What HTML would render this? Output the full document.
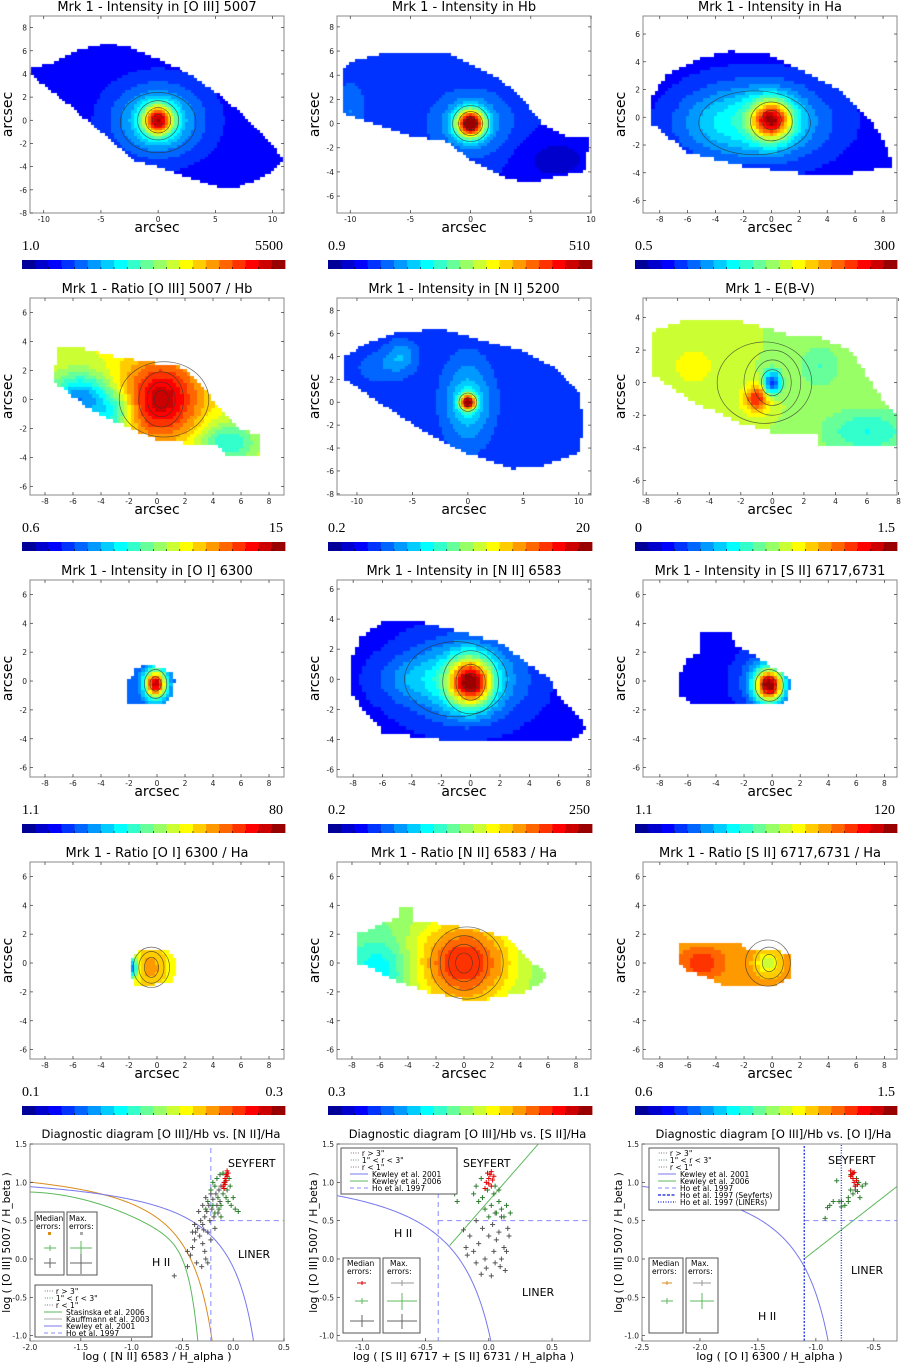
<!DOCTYPE html>
<html><head><meta charset="utf-8">
<style>
html,body{margin:0;padding:0;background:#fff;}
#wrap{position:relative;width:901px;height:1363px;overflow:hidden;}
canvas{position:absolute;}
svg{position:absolute;left:0;top:0;}
text{font-family:"DejaVu Sans","Liberation Sans",sans-serif;}
.serif{font-family:"Liberation Serif",serif;}
</style></head>
<body>
<div id="wrap">
<svg id="fig" width="901" height="1363"></svg>
</div>
<script>
// ---------- map panel data ----------
const titles=["Mrk 1 - Intensity in [O III] 5007","Mrk 1 - Intensity in Hb","Mrk 1 - Intensity in Ha",
"Mrk 1 -  Ratio [O III] 5007 / Hb","Mrk 1 - Intensity in [N I] 5200","Mrk 1 -  E(B-V)",
"Mrk 1 - Intensity in [O I] 6300","Mrk 1 - Intensity in [N II] 6583","Mrk 1 - Intensity in [S II] 6717,6731",
"Mrk 1 - Ratio [O I] 6300 / Ha","Mrk 1 - Ratio [N II] 6583 / Ha","Mrk 1 - Ratio [S II] 6717,6731 / Ha"];
const xRanges=[[-11.2,11],[-11.1,10],[-9.2,9],[-9.07,9.07],[-11.8,11.1],[-8.2,7.9],[-9.07,9.07],[-9.1,8.2],[-9.2,8.9],[-9.07,9.07],[-9.07,9.07],[-9.2,8.9]];
const yRanges=[[-8,9],[-7.4,8.9],[-6.9,7.3],[-6.6,7.0],[-8.1,9.1],[-6.9,5.2],[-6.65,7],[-6.5,6.6],[-6.65,7],[-6.65,7],[-6.65,7],[-6.65,7]];
const xTicks=[[-10,-5,0,5,10],[-10,-5,0,5,10],[-8,-6,-4,-2,0,2,4,6,8],[-8,-6,-4,-2,0,2,4,6,8],[-10,-5,0,5,10],[-8,-6,-4,-2,0,2,4,6,8],
[-8,-6,-4,-2,0,2,4,6,8],[-8,-6,-4,-2,0,2,4,6,8],[-8,-6,-4,-2,0,2,4,6,8],[-8,-6,-4,-2,0,2,4,6,8],[-8,-6,-4,-2,0,2,4,6,8],[-8,-6,-4,-2,0,2,4,6,8]];
const yTicks=[[-8,-6,-4,-2,0,2,4,6,8],[-6,-4,-2,0,2,4,6,8],[-6,-4,-2,0,2,4,6],[-6,-4,-2,0,2,4,6],[-8,-6,-4,-2,0,2,4,6,8],[-6,-4,-2,0,2,4],
[-6,-4,-2,0,2,4,6],[-6,-4,-2,0,2,4,6],[-6,-4,-2,0,2,4,6],[-6,-4,-2,0,2,4,6],[-6,-4,-2,0,2,4,6],[-6,-4,-2,0,2,4,6]];
const cbarMin=["1.0","0.9","0.5","0.6","0.2","0","1.1","0.2","1.1","0.1","0.3","0.6"];
const cbarMax=["5500","510","300","15","20","1.5","80","250","120","0.3","1.1","1.5"];
const shapes=[
[[-11,4.5],[-9,5],[-7,6],[-4.5,6.7],[-2.5,6.3],[0,5.3],[2,4.4],[5,2.5],[8,0],[10,-2],[11,-3.5],[10,-4.5],[7,-5.8],[6,-6],[3,-5],[0,-4],[-2,-3.5],[-5,-1],[-8,1.5],[-11,3.8]],
[[-10.5,4.7],[-9.5,5.3],[-6.5,6],[-2,6],[2,4],[4,2.5],[6,0],[8,-1],[10,-1],[9.5,-4],[7,-4.5],[5,-5],[3,-4.5],[0,-3],[-2,-1.5],[-5,-1],[-8,0],[-10.5,0.8]],
[[-8.5,1.5],[-7.5,3],[-5,4.3],[-3,4.8],[0,4.5],[3,3],[5,2],[7,0],[8,-1.5],[8.7,-3.5],[6,-4],[2,-4],[-2,-3.5],[-6,-2.5],[-8.5,-0.5]],
[[-7,3.5],[-5.5,3.6],[-3,3],[-1,2.6],[2,2.2],[4,0],[5,-1],[6,-2],[7.5,-2.5],[7.5,-3.8],[5,-3.8],[4,-3],[2,-3],[0,-2.8],[-3,-1.5],[-5,-0.5],[-7.5,1.3]],
[[-11,4],[-9,5.2],[-6,6.2],[-2,6.3],[1,5.5],[5,4.5],[8,3],[10,1],[10.5,-2],[10,-4.5],[7,-5.5],[4,-5.8],[0,-4.5],[-4,-2.5],[-8,0],[-11,2]],
[[-7.5,3.2],[-5.8,3.8],[-2,3.8],[1,3],[3,2.8],[5,2],[6,0.5],[7,-1],[8,-2],[8,-3.8],[3,-3.8],[3,-3],[0,-3],[-2,-2.5],[-5,-1.2],[-7.5,0.5]],
[[-2,0],[-1.5,0.8],[-0.8,1.2],[0,1],[1,0.6],[1.3,0],[1.1,-1],[0.5,-1.7],[-2,-1.7]],
[[-8,1.5],[-7.5,2.8],[-6,3.8],[-4,4],[-2,3.5],[0,3],[2,2.5],[4,1],[5.5,0],[6,-1],[8,-3.3],[7,-4],[-2,-4],[-6,-3.5],[-8,-1.2]],
[[-6.5,0.5],[-6,1.5],[-5,2],[-5,3.3],[-3,3.3],[-2.5,2.5],[-1.5,2],[0,1],[1,0.5],[1.5,0],[1,-1.5],[-5.5,-1.7],[-6.5,-1]],
[[-1.8,0.3],[-1.2,1],[0.5,1],[1.2,0.5],[1.5,-0.3],[1,-1.3],[0,-1.5],[-1.5,-1.5],[-2,-0.8]],
[[-7.5,2],[-5.8,2.8],[-4.5,3.2],[-4.5,3.8],[-3.5,3.8],[-3.5,3],[-1.5,2.7],[1,2.3],[3,1.8],[5,0],[6,-0.7],[5.5,-1.5],[4.5,-2],[2,-2.5],[0,-2.5],[-2.5,-2],[-5,-1.2],[-7.5,0]],
[[-6.5,1.5],[-2.5,1.5],[-1.5,0.8],[0.5,0.8],[1.5,0.5],[1.5,-1],[0.5,-1.5],[-3.5,-1.5],[-4.5,-1],[-6,-0.5],[-6.5,0]]];
const bases=[0.12,0.15,0.12,0.6,0.17,0.55,0.2,0.12,0.12,0.62,0.5,0.72];
// components: [cx, cy, sx, sy, amplitude]
const blobs=[
[[0,0,0.9,0.9,0.6],[0,0,2.8,2.2,0.25]],
[[0,0,0.8,0.8,0.8],[0,0,2.5,2,0.15],[-10,1,1,2,0.1],[7,-3,2.5,1.5,-0.07]],
[[0,-0.2,1.0,1.0,0.6],[-1,-0.3,3.5,2.0,0.27],[-4.5,-0.5,2,1.5,0.05]],
[[-5.5,0,1.5,1.2,-0.35],[-3,-1,1,1,-0.2],[0.3,0,2,2,0.33],[5,-3,1.5,1,-0.2]],
[[0,0,0.5,0.5,0.7],[0,0,1.5,2.5,0.18],[-6,4,1,1,0.12],[-8,3,1.5,1,0.06]],
[[0,0,0.4,0.5,-0.4],[-1,-1,0.6,0.6,0.3],[6,-3,2,1,-0.15],[-5,1,1.2,1,0.08],[3,1,1,1,-0.1]],
[[-0.1,-0.2,0.55,0.7,0.75]],
[[0,-0.2,1,1.1,0.65],[-0.5,0,3,2,0.25],[-4,0,2,1,0.07]],
[[-0.2,-0.3,0.7,0.8,0.75],[-0.5,0,1.5,1.5,0.15]],
[[-0.5,-0.3,0.8,1,0.1],[-1.8,-0.3,0.3,0.5,-0.4]],
[[-6,-0.5,1.5,1.5,-0.15],[0,0,2.5,2.2,0.35]],
[[-5,0,1,0.7,0.12],[-0.3,0,0.6,0.6,-0.15]]];
// contours: [cx, cy, rx, ry]
const contours=[
[[0,0,0.5,0.5],[0,0,1.1,1.1],[0,0,1.8,1.7],[0,-0.2,3.3,2.6]],
[[0,0,0.5,0.5],[0,0,1.0,1.0],[0,0,1.5,1.5]],
[[0,-0.2,0.7,0.7],[0,-0.3,1.5,1.4],[-1.2,-0.4,4,2.3]],
[[0.3,0,0.5,0.6],[0.3,0,1.0,1.2],[0.3,0,1.6,1.9],[0.5,0,3.2,2.6]],
[[0,0,0.4,0.4],[0,0,0.8,0.8]],
[[0,0,0.7,0.8],[0,0,1.2,1.4],[0,0,1.8,2],[-0.5,0,3,2.5]],
[[-0.1,-0.2,0.4,0.5],[-0.1,-0.2,0.8,1.0]],
[[0,-0.2,0.5,0.6],[0,-0.2,1.0,1.2],[0,-0.2,1.9,2.1],[-1,0,3.5,2.5]],
[[-0.2,-0.3,0.5,0.6],[-0.2,-0.3,1.0,1.1]],
[[-0.4,-0.3,0.5,0.7],[-0.4,-0.3,0.9,1.1],[-0.4,-0.3,1.3,1.4]],
[[0,0,0.6,0.7],[0,0,1.1,1.3],[0,0,1.7,1.9],[0.2,0,2.6,2.5]],
[[-0.2,0,0.5,0.6],[-0.2,0,1.0,1.1],[-0.3,0,1.6,1.6]]];

// ---------- diagnostic diagram data ----------
const d1Gray=[[-0.58,-0.22],[-0.45,0.1],[-0.42,0.05],[-0.4,0.15],[-0.38,0.25],[-0.37,0.35],[-0.35,0.4],[-0.33,0.3],[-0.32,0.5],[-0.3,0.45],[-0.3,0.2],[-0.28,0.55],[-0.28,0.1],[-0.27,0.0],[-0.26,0.62],[-0.25,0.35],[-0.25,-0.05],[-0.24,0.7],[-0.23,0.5],[-0.22,0.25],[-0.21,0.65],[-0.2,0.78],[-0.19,0.55],[-0.18,0.4],[-0.17,0.85],[-0.16,0.7],[-0.15,0.6],[-0.14,0.9],[-0.13,0.75],[-0.12,0.95],[-0.36,-0.05],[-0.4,0.35],[-0.34,0.62],[-0.3,0.7],[-0.27,0.8],[-0.22,0.85],[-0.45,-0.1],[-0.38,0.45],[-0.31,-0.1],[-0.29,0.38]];
const d1Green=[[-0.25,0.75],[-0.22,0.9],[-0.2,1.0],[-0.18,0.95],[-0.16,1.05],[-0.15,0.8],[-0.13,1.1],[-0.12,0.7],[-0.1,0.85],[-0.08,1.0],[-0.06,0.9],[-0.05,0.75],[-0.03,0.95],[-0.02,0.7],[0.02,0.65],[0.05,0.62],[-0.12,0.55],[-0.1,1.12],[-0.18,0.6],[-0.07,0.8],[0.0,0.8],[-0.14,0.65],[-0.2,0.7],[-0.27,0.65],[-0.04,1.05]];
const d1Red=[[-0.1,0.95],[-0.09,1.0],[-0.08,1.05],[-0.07,1.1],[-0.06,1.15],[-0.08,0.97],[-0.07,1.02],[-0.06,1.08],[-0.09,0.92],[-0.05,1.12]];
const d2Gray=[[-0.2,0.38],[-0.18,0.15],[-0.17,0.05],[-0.15,0.3],[-0.12,0.1],[-0.1,-0.05],[-0.08,0.2],[-0.06,-0.2],[-0.05,0.4],[-0.03,0.0],[-0.02,-0.12],[0.0,0.3],[0.02,-0.22],[0.03,0.45],[0.04,0.1],[0.05,-0.05],[0.06,0.25],[0.08,0.35],[0.09,-0.1],[0.1,0.0],[0.12,0.15],[0.13,-0.15],[0.15,0.4],[0.16,0.3],[0.05,0.6],[0.1,0.55],[-0.1,0.5],[0.14,0.1]];
const d2Green=[[-0.27,0.85],[-0.25,0.75],[-0.1,0.95],[-0.08,0.75],[-0.05,0.8],[-0.03,0.65],[-0.01,0.9],[0.02,0.7],[0.04,0.85],[0.06,0.6],[0.08,0.75],[0.1,0.65],[0.12,0.55],[0.14,0.7],[0.17,0.6],[0.0,0.55],[-0.06,1.05],[0.05,0.95],[0.08,0.9],[-0.12,0.85]];
const d2Red=[[-0.02,1.0],[0.0,1.05],[0.01,1.1],[0.02,0.95],[-0.01,1.12],[0.03,1.03],[-0.03,0.92],[0.0,0.98],[0.02,1.14],[0.04,1.08]];
const d3Gray=[[-0.78,0.75],[-0.66,0.9]];
const d3Green=[[-0.92,0.53],[-0.9,0.67],[-0.88,0.7],[-0.85,0.75],[-0.8,0.75],[-0.78,0.68],[-0.75,0.7],[-0.72,0.8],[-0.7,0.9],[-0.68,0.85],[-0.66,0.95],[-0.64,0.88],[-0.62,0.8],[-0.6,0.95],[-0.57,0.98],[-0.65,1.05],[-0.82,1.02],[-0.7,1.1],[-0.63,1.0],[-0.72,0.75]];
const d3Red=[[-0.7,1.15],[-0.69,1.1],[-0.68,1.05],[-0.67,1.0],[-0.66,0.95],[-0.68,1.12],[-0.65,1.02],[-0.7,1.08],[-0.64,0.97],[-0.67,1.13]];
const dXRanges=[[-2.0,0.5],[-1.2,0.8],[-2.5,-0.3]];
const dYRange=[-1.07,1.5];
const dXTicks=[[-2.0,-1.5,-1.0,-0.5,0.0,0.5],[-1.0,-0.5,0.0,0.5],[-2.5,-2.0,-1.5,-1.0,-0.5]];
const dYTicks=[-1.0,-0.5,0.0,0.5,1.0,1.5];
const dTitles=["Diagnostic diagram [O III]/Hb vs. [N II]/Ha","Diagnostic diagram [O III]/Hb vs. [S II]/Ha","Diagnostic diagram [O III]/Hb vs. [O I]/Ha"];
const dXLabels=["log ( [N II] 6583 / H_alpha )","log ( [S II] 6717 + [S II] 6731 / H_alpha )","log ( [O I] 6300 / H_alpha )"];

// ---------- helpers ----------
const NS="http://www.w3.org/2000/svg";
const svg=document.getElementById('fig');
const wrap=document.getElementById('wrap');
function el(tag,attrs,parent){const e=document.createElementNS(NS,tag);for(const k in attrs)e.setAttribute(k,attrs[k]);(parent||svg).appendChild(e);return e;}
function txt(s,attrs,parent){const e=el('text',attrs,parent);e.textContent=s;return e;}
function jet(t){const c=v=>Math.max(0,Math.min(1,v));return [c(1.5-Math.abs(4*t-3)),c(1.5-Math.abs(4*t-2)),c(1.5-Math.abs(4*t-1))].map(v=>Math.round(v*255));}
const NL=20;
function level(v){let i=Math.floor(v*NL);return Math.max(0,Math.min(NL-1,i));}
const pal=[];for(let i=0;i<NL;i++)pal.push(jet((i+0.5)/NL));
function inPoly(x,y,p){let ins=false;for(let i=0,j=p.length-1;i<p.length;j=i++){const xi=p[i][0],yi=p[i][1],xj=p[j][0],yj=p[j][1];if(((yi>y)!=(yj>y))&&(x<(xj-xi)*(y-yi)/(yj-yi)+xi))ins=!ins;}return ins;}
const colL=[30,337,643],colR=[284,591,897],cbL=[22,328,635],cbR=[285,592,897];

// ---------- map panels ----------
for(let k=0;k<12;k++){
  const r=Math.floor(k/3),c=k%3;
  const L=colL[c],R=colR[c],T=16+282*r,B=213+282*r,W=R-L,H=B-T;
  const [x0,x1]=xRanges[k],[y0,y1]=yRanges[k];
  const sx=v=>L+(v-x0)/(x1-x0)*W, sy=v=>B-(v-y0)/(y1-y0)*H;
  const g=el('g',{});
  
  
  const cv=document.createElement('canvas');cv.width=W;cv.height=H;cv.style.left=L+'px';cv.style.top=T+'px';
  
  
  wrap.insertBefore(cv,svg);
  const ctx=cv.getContext('2d');const img=ctx.createImageData(W,H);
  const cell=0.25;
  for(let py=0;py<H;py++)for(let px=0;px<W;px++){
    let ax=x0+(px+0.5)/W*(x1-x0), ay=y1-(py+0.5)/H*(y1-y0);
    ax=Math.round(ax/cell)*cell; ay=Math.round(ay/cell)*cell;
    if(!inPoly(ax,ay,shapes[k]))continue;
    let v=bases[k];
    for(const b of blobs[k]){const dx=(ax-b[0])/b[2],dy=(ay-b[1])/b[3];v+=b[4]*Math.exp(-0.5*(dx*dx+dy*dy));}
    const col=pal[level(v)];const o=(py*W+px)*4;img.data[o]=col[0];img.data[o+1]=col[1];img.data[o+2]=col[2];img.data[o+3]=255;
  }
  ctx.putImageData(img,0,0);
  for(const ct of contours[k]){
    const e=el('ellipse',{cx:sx(ct[0]),cy:sy(ct[1]),rx:ct[2]/(x1-x0)*W,ry:ct[3]/(y1-y0)*H,fill:'none',stroke:'#333','stroke-width':0.7,opacity:0.75},g);
    
    
  }
  const fr=el('rect',{x:L,y:T,width:W,height:H,fill:'none',stroke:'#888','stroke-width':1},g);
  
  
  for(const t of xTicks[k]){
    const x=sx(t);
    el('line',{x1:x,y1:B,x2:x,y2:B-3,stroke:'#333','stroke-width':0.7},g);
    el('line',{x1:x,y1:T,x2:x,y2:T+3,stroke:'#333','stroke-width':0.7},g);
    const tl=txt(String(t),{x:x,y:B+9,'font-size':7.5,'text-anchor':'middle',fill:'#222'},g);
    
    
  }
  for(const t of yTicks[k]){
    const y=sy(t);
    el('line',{x1:L,y1:y,x2:L+3,y2:y,stroke:'#333','stroke-width':0.7},g);
    el('line',{x1:R,y1:y,x2:R-3,y2:y,stroke:'#333','stroke-width':0.7},g);
    const tl=txt(String(t),{x:L-3,y:y+3,'font-size':7.5,'text-anchor':'end',fill:'#222'},g);
    
    
  }
  const ti=txt(titles[k],{x:(L+R)/2,y:11+282*r,'font-size':13,'text-anchor':'middle',fill:'#000'},g);
  
  
  const xl=txt('arcsec',{x:(L+R)/2,y:B+19,'font-size':14,'text-anchor':'middle',fill:'#000'},g);
  
  
  const yx=L-18,yy=(T+B)/2;
  const yl=txt('arcsec',{x:yx,y:yy,'font-size':14,'text-anchor':'middle',fill:'#000',transform:`rotate(-90 ${yx} ${yy})`},g);
  
  
  const cb=el('g',{},g);
  
  
  const cy0=260+282*r, cw=(cbR[c]-cbL[c])/NL;
  for(let i=0;i<NL;i++){
    const col=pal[i];
    el('rect',{x:cbL[c]+i*cw,y:cy0,width:cw+0.4,height:9,fill:`rgb(${col[0]},${col[1]},${col[2]})`},cb);
    if(i>0)el('line',{x1:cbL[c]+i*cw,y1:cy0+9,x2:cbL[c]+i*cw,y2:cy0+7,stroke:'#000','stroke-width':0.6},cb);
  }
  const m1=txt(cbarMin[k],{x:cbL[c],y:250+282*r,'font-size':14,fill:'#000','class':'serif'},cb);
  
  
  const m2=txt(cbarMax[k],{x:cbR[c]-2,y:250+282*r,'font-size':14,fill:'#000','text-anchor':'end','class':'serif'},cb);
  
  
}

// ---------- diagnostic diagrams ----------
const dGray=[d1Gray,d2Gray,d3Gray],dGreen=[d1Green,d2Green,d3Green],dRed=[d1Red,d2Red,d3Red];
const dL=[30,337,642],dR=[284,590,897],dT=1144,dB=1341;
for(let k=0;k<3;k++){
  const L=dL[k],R=dR[k],W=R-L,H=dB-dT;
  const [x0,x1]=dXRanges[k],[y0,y1]=dYRange;
  const sx=v=>L+(v-x0)/(x1-x0)*W, sy=v=>dB-(v-y0)/(y1-y0)*H;
  const g=el('g',{});
  
  
  const cp=el('clipPath',{id:'clip'+k},g);el('rect',{x:L,y:dT,width:W,height:H},cp);
  const pg=el('g',{'clip-path':`url(#clip${k})`},g);
  function curve(f,xa,xb,color,name,dash){
    let d='';const n=200;
    for(let i=0;i<=n;i++){const x=xa+(xb-xa)*i/n;const y=f(x);if(!isFinite(y))continue;d+=(d?'L':'M')+sx(x).toFixed(2)+','+sy(Math.max(-3,Math.min(3,y))).toFixed(2);}
    const p=el('path',{d:d,fill:'none',stroke:color,'stroke-width':1,'stroke-dasharray':dash||'none'},pg);
    
    
  }
  function line(xa,ya,xb,yb,color,dash,name,w){
    const l=el('line',{x1:sx(xa),y1:sy(ya),x2:sx(xb),y2:sy(yb),stroke:color,'stroke-width':w||1,'stroke-dasharray':dash},pg);
    
    
  }
  if(k===0){
    curve(x=>(-30.787+1.1358*x+0.27297*x*x)*Math.tanh(5.7409*x)-31.093,-2.0,-0.34,'#5cb85c','stasinska-2006-curve');
    curve(x=>0.61/(x-0.05)+1.3,-2.0,-0.2,'#d98c1c','kauffmann-2003-curve');
    curve(x=>0.61/(x-0.47)+1.19,-2.0,0.2,'#7777ee','kewley-2001-curve');
    line(-0.22,-1.2,-0.22,1.6,'#8888ff','5,4','ho-1997-vertical');
    line(-0.22,0.5,0.5,0.5,'#8888ff','5,4','ho-1997-horizontal');
  } else if(k===1){
    curve(x=>0.72/(x-0.32)+1.30,-1.2,0.05,'#7777ee','kewley-2001-curve');
    curve(x=>1.89*x+0.76,-0.31,0.5,'#5cb85c','kewley-2006-line');
    line(-0.4,-1.2,-0.4,1.6,'#8888ff','5,4','ho-1997-vertical');
    line(-0.4,0.5,0.8,0.5,'#8888ff','5,4','ho-1997-horizontal');
  } else {
    curve(x=>0.73/(x+0.59)+1.33,-2.5,-0.86,'#7777ee','kewley-2001-curve');
    curve(x=>1.18*x+1.30,-1.1,-0.3,'#5cb85c','kewley-2006-line');
    line(-1.1,0.5,-0.3,0.5,'#8888ff','5,4','ho-1997-horizontal');
    line(-1.1,-1.2,-1.1,1.6,'#3344dd','2,1.5','ho-1997-seyfert-line',1.4);
    line(-0.78,-1.2,-0.78,1.6,'#3344dd','1,1.5','ho-1997-liner-line',1.4);
  }
  function pts(arr,color,name){
    for(const p of arr){
      const x=sx(p[0]),y=sy(p[1]);
      const m=el('path',{d:`M${x-2.5},${y}H${x+2.5}M${x},${y-2.5}V${y+2.5}`,stroke:color,'stroke-width':1},pg);
      
      
    }
  }
  pts(dGray[k],'#555','point-r-lt-1');
  pts(dGreen[k],'#2e7d2e','point-1-3');
  pts(dRed[k],'#e00000','point-r-gt-3');
  const fr=el('rect',{x:L,y:dT,width:W,height:H,fill:'none',stroke:'#888','stroke-width':1},g);
  
  
  for(const t of dXTicks[k]){
    const x=sx(t);
    el('line',{x1:x,y1:dB,x2:x,y2:dB-3,stroke:'#333','stroke-width':0.7},g);
    const tl=txt(t.toFixed(1),{x:x,y:dB+9,'font-size':7.5,'text-anchor':'middle',fill:'#222'},g);
    
    
  }
  for(const t of dYTicks){
    const y=sy(t);
    el('line',{x1:L,y1:y,x2:L+3,y2:y,stroke:'#333','stroke-width':0.7},g);
    const tl=txt(t.toFixed(1),{x:L-3,y:y+3,'font-size':7.5,'text-anchor':'end',fill:'#222'},g);
    
    
  }
  const ti=txt(dTitles[k],{x:(L+R)/2+4,y:1138,'font-size':11.5,'text-anchor':'middle',fill:'#000'},g);
  
  
  const xl=txt(dXLabels[k],{x:(L+R)/2,y:1360,'font-size':11,'text-anchor':'middle',fill:'#000'},g);
  
  
  const yx=L-20,yy=(dT+dB)/2;
  const yl=txt('log ( [O III] 5007 / H_beta )',{x:yx,y:yy,'font-size':10.5,'text-anchor':'middle',fill:'#000',transform:`rotate(-90 ${yx} ${yy})`},g);
  
  
}
</script>
<svg width="901" height="1363" style="position:absolute;left:0;top:0" font-family="DejaVu Sans, Liberation Sans, sans-serif">
 <g font-size="11">
  <text x="228" y="1167">SEYFERT</text><text x="152" y="1266">H II</text><text x="238" y="1258">LINER</text>
 </g>
 <g>
  <rect x="35" y="1212" width="29" height="63" fill="#fff" stroke="#555"/>
  <text x="36" y="1221" font-size="7.5">Median</text><text x="36" y="1229" font-size="7.5">errors:</text>
  <rect x="48" y="1232" width="3" height="3" fill="#d98c1c"/>
  <path d="M44 1248H56M50 1245V1251" stroke="#5cb85c"/><path d="M44 1263H56M50 1258V1268" stroke="#666"/>
 </g>
 <g>
  <rect x="67" y="1212" width="30" height="63" fill="#fff" stroke="#555"/>
  <text x="69" y="1221" font-size="7.5">Max.</text><text x="69" y="1229" font-size="7.5">errors:</text>
  <rect x="80" y="1232" width="3" height="3" fill="#aaa"/>
  <path d="M70 1248H92M81 1241V1255" stroke="#5cb85c"/><path d="M70 1263H92M81 1254V1274" stroke="#666"/>
 </g>
 <g font-size="7.5">
  <rect x="35" y="1285" width="117" height="52" fill="#fff" stroke="#555"/>
  <text x="44" y="1294" fill="#555">····  <tspan fill="#000">r &gt; 3"</tspan></text>
  <text x="44" y="1301" fill="#2e7d2e">····  <tspan fill="#000">1" &lt; r &lt; 3"</tspan></text>
  <text x="44" y="1308" fill="#555">····  <tspan fill="#000">r &lt; 1"</tspan></text>
  <line x1="44" y1="1312" x2="62" y2="1312" stroke="#5cb85c"/><text x="66" y="1315">Stasinska et al. 2006</text>
  <line x1="44" y1="1319" x2="62" y2="1319" stroke="#aaa"/><text x="66" y="1322">Kauffmann et al. 2003</text>
  <line x1="44" y1="1326" x2="62" y2="1326" stroke="#7777ee"/><text x="66" y="1329">Kewley et al. 2001</text>
  <line x1="44" y1="1333" x2="62" y2="1333" stroke="#8888ff" stroke-dasharray="4,3"/><text x="66" y="1336">Ho et al. 1997</text>
 </g>
 <g font-size="11">
  <text x="463" y="1167">SEYFERT</text><text x="394" y="1237">H II</text><text x="522" y="1296">LINER</text>
 </g>
 <g font-size="7.5">
  <rect x="341" y="1148" width="116" height="46" fill="#fff" stroke="#555"/>
  <text x="350" y="1156" fill="#555">····  <tspan fill="#000">r &gt; 3"</tspan></text>
  <text x="350" y="1163" fill="#2e7d2e">····  <tspan fill="#000">1" &lt; r &lt; 3"</tspan></text>
  <text x="350" y="1170" fill="#555">····  <tspan fill="#000">r &lt; 1"</tspan></text>
  <line x1="350" y1="1174" x2="368" y2="1174" stroke="#7777ee"/><text x="372" y="1177">Kewley et al. 2001</text>
  <line x1="350" y1="1181" x2="368" y2="1181" stroke="#5cb85c"/><text x="372" y="1184">Kewley et al. 2006</text>
  <line x1="350" y1="1188" x2="368" y2="1188" stroke="#8888ff" stroke-dasharray="4,3"/><text x="372" y="1191">Ho et al. 1997</text>
 </g>
 <g>
  <rect x="343" y="1258" width="37" height="75" fill="#fff" stroke="#555"/>
  <text x="347" y="1266" font-size="7.5">Median</text><text x="347" y="1274" font-size="7.5">errors:</text>
  <path d="M357 1283H366M362 1281V1285" stroke="#e00000"/>
  <path d="M355 1301H368M362 1298V1304" stroke="#5cb85c"/><path d="M350 1321H374M362 1315V1327" stroke="#666"/>
 </g>
 <g>
  <rect x="383" y="1258" width="37" height="75" fill="#fff" stroke="#555"/>
  <text x="390" y="1266" font-size="7.5">Max.</text><text x="387" y="1274" font-size="7.5">errors:</text>
  <path d="M391 1283H414M402 1280V1286" stroke="#999"/>
  <path d="M387 1301H417M402 1293V1310" stroke="#5cb85c"/><path d="M387 1321H417M402 1314V1329" stroke="#666"/>
 </g>
 <g font-size="11">
  <text x="828" y="1164">SEYFERT</text><text x="758" y="1320">H II</text><text x="851" y="1274">LINER</text>
 </g>
 <g font-size="7.5">
  <rect x="649" y="1148" width="130" height="62" fill="#fff" stroke="#555"/>
  <text x="658" y="1156" fill="#555">····  <tspan fill="#000">r &gt; 3"</tspan></text>
  <text x="658" y="1163" fill="#2e7d2e">····  <tspan fill="#000">1" &lt; r &lt; 3"</tspan></text>
  <text x="658" y="1170" fill="#555">····  <tspan fill="#000">r &lt; 1"</tspan></text>
  <line x1="658" y1="1174" x2="676" y2="1174" stroke="#7777ee"/><text x="680" y="1177">Kewley et al. 2001</text>
  <line x1="658" y1="1181" x2="676" y2="1181" stroke="#5cb85c"/><text x="680" y="1184">Kewley et al. 2006</text>
  <line x1="658" y1="1188" x2="676" y2="1188" stroke="#8888ff" stroke-dasharray="4,3"/><text x="680" y="1191">Ho et al. 1997</text>
  <line x1="658" y1="1195" x2="676" y2="1195" stroke="#3344dd" stroke-width="1.4" stroke-dasharray="3,1.5"/><text x="680" y="1198">Ho et al. 1997 (Seyferts)</text>
  <line x1="658" y1="1202" x2="676" y2="1202" stroke="#3344dd" stroke-width="1.4" stroke-dasharray="1,1.5"/><text x="680" y="1205">Ho et al. 1997 (LINERs)</text>
 </g>
 <g>
  <rect x="649" y="1258" width="34" height="75" fill="#fff" stroke="#555"/>
  <text x="652" y="1266" font-size="7.5">Median</text><text x="652" y="1274" font-size="7.5">errors:</text>
  <path d="M662 1283H672M667 1281V1285" stroke="#d98c1c"/>
  <path d="M661 1301H673M667 1298V1304" stroke="#5cb85c"/>
 </g>
 <g>
  <rect x="686" y="1258" width="32" height="75" fill="#fff" stroke="#555"/>
  <text x="691" y="1266" font-size="7.5">Max.</text><text x="688" y="1274" font-size="7.5">errors:</text>
  <path d="M693 1283H711M702 1280V1286" stroke="#999"/>
  <path d="M690 1301H714M702 1293V1309" stroke="#5cb85c"/>
 </g>
</svg>
</body></html>
